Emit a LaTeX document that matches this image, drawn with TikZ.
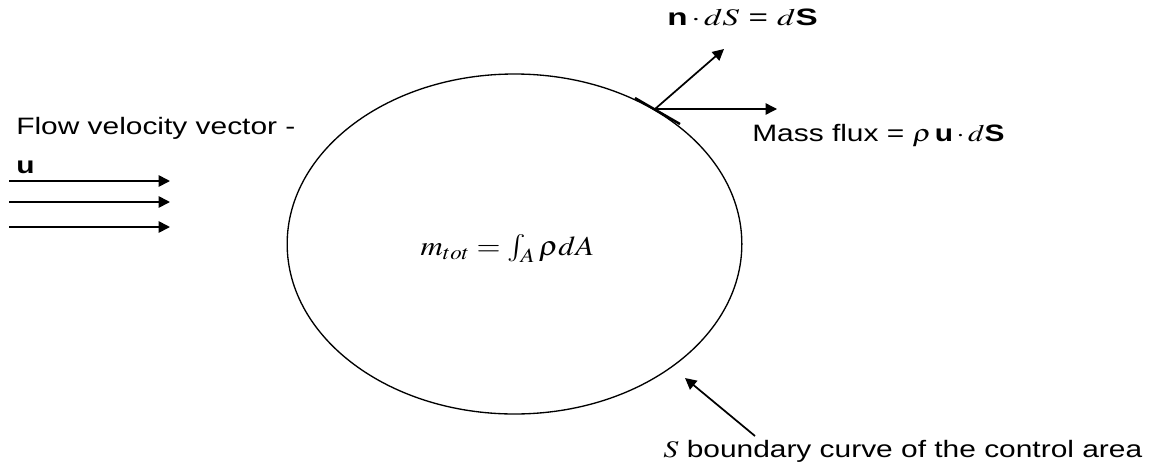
\documentclass[tikz,border=0pt]{standalone}
\usepackage{mathptmx}
\usepackage{graphicx}
\usepackage{fontspec}
\setmainfont{Liberation Sans}
\usetikzlibrary{arrows.meta, positioning, calc, shapes.geometric}

\newcommand{\wide}[2][1.26]{\scalebox{#1}[1]{#2}}

\begin{document}
\begin{tikzpicture}[
    x=0.75pt, y=-0.75pt,
    >={Triangle[length=8.5pt, width=8.5pt]},
    lbl/.style={anchor=base west, inner sep=0pt, font=\fontsize{17.8}{21}\selectfont},
    vec/.style={->, line width=1.3pt},
    region/.style={draw, ellipse, line width=1pt, inner sep=0pt, minimum width=341pt, minimum height=255pt}
    ]
    \useasboundingbox (0,0) rectangle (1162,468);

    % --- Volumen de control ---
    \node (cv) [region] at (514.5,244) {};
    \node (mass) [anchor=base, inner sep=0pt, font=\fontsize{20.5}{24}\selectfont] at (507.5,255)
        {\wide[1.13]{$m_{tot} = \int_A \rho dA$}};

    % --- Flujo entrante ---
    \node (flowlbl) [lbl] at (16,134) {\wide{Flow velocity vector -}};
    \node (ulbl) [lbl] at (16,173) {\wide{\textbf{u}}};
    \coordinate (tailA) at (9,181);
    \coordinate (headA) at (170,181);
    \coordinate (tailB) at (9,202);
    \coordinate (headB) at (170,202);
    \coordinate (tailC) at (9,227);
    \coordinate (headC) at (170,227);
    \draw[vec] (tailA) -- (headA);
    \draw[vec] (tailB) -- (headB);
    \draw[vec] (tailC) -- (headC);

    % --- Normal y flujo de masa ---
    \coordinate (orig) at (655,109);
    \coordinate (tanA) at (635,98);
    \coordinate (tanB) at (680,124);
    \coordinate (normTip) at (724,49);
    \coordinate (fluxTip) at (777,109);
    \draw[line width=1.8pt] (tanA) -- (tanB);
    \draw[vec] (orig) -- (normTip);
    \draw[vec, line width=1pt] (orig) -- (fluxTip);

    \node (normlbl) [lbl] at (667,25) {\wide[1.4]{\textbf{n}$\,\cdot\, dS$ = $d$\textbf{S}}};
    \node (fluxlbl) [lbl] at (752,141) {\wide{Mass flux = $\rho\,$\textbf{u}$\,\cdot\, d$\textbf{S}}};

    % --- Frontera ---
    \node (bndlbl) [lbl] at (663,457) {\wide{$S$ boundary curve of the control area}};
    \coordinate (bndTail) at (755,436);
    \coordinate (bndHead) at (685,378);
    \draw[vec] (bndTail) -- (bndHead);

\end{tikzpicture}
\end{document}
